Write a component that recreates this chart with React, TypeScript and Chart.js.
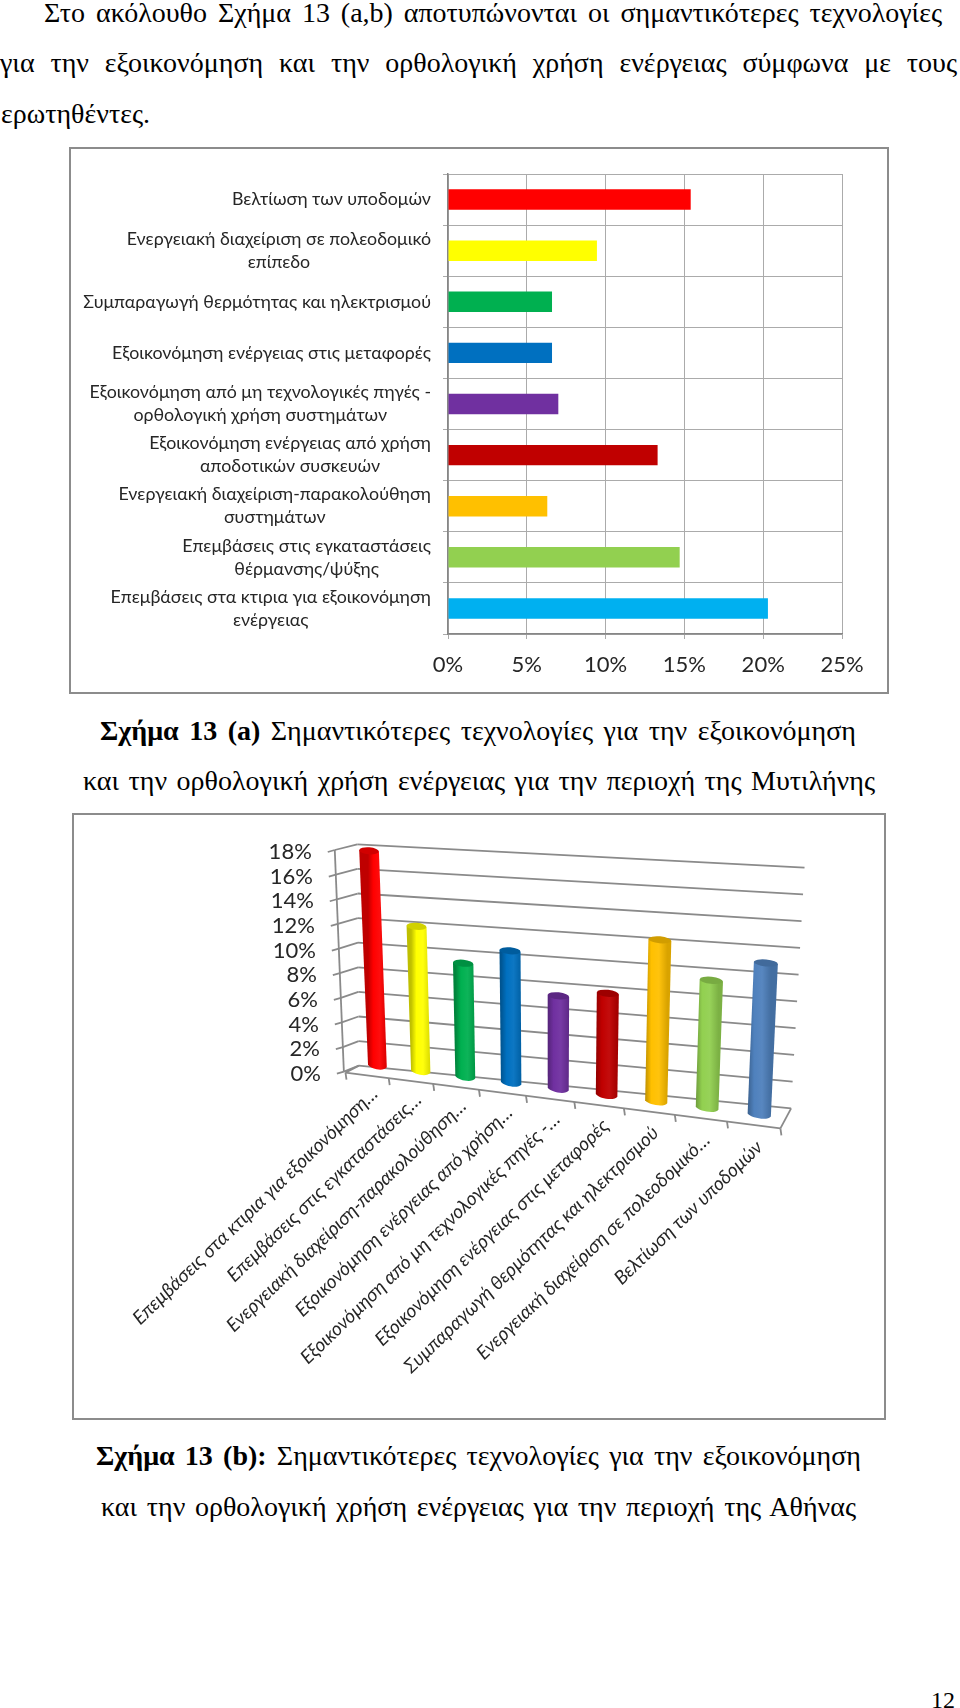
import React, { useEffect, useRef } from "react";
import { Chart, registerables, BarController } from "chart.js";

Chart.register(...registerables);

// ---------- data ----------
const categoriesA: string[][] = [
  ["Βελτίωση των υποδομών"],
  ["Ενεργειακή διαχείριση σε πολεοδομικό", "επίπεδο"],
  ["Συμπαραγωγή θερμότητας και ηλεκτρισμού"],
  ["Εξοικονόμηση ενέργειας στις μεταφορές"],
  ["Εξοικονόμηση από μη τεχνολογικές πηγές -", "ορθολογική χρήση συστημάτων"],
  ["Εξοικονόμηση ενέργειας από χρήση", "αποδοτικών συσκευών"],
  ["Ενεργειακή διαχείριση-παρακολούθηση", "συστημάτων"],
  ["Επεμβάσεις στις εγκαταστάσεις", "θέρμανσης/ψύξης"],
  ["Επεμβάσεις στα κτιρια για εξοικονόμηση", "ενέργειας"],
];
const valuesA = [15.4, 9.45, 6.6, 6.6, 7.0, 13.3, 6.3, 14.7, 20.3];
const colorsA = ["#ff0000", "#ffff00", "#00b050", "#0070c0", "#7030a0", "#c00000", "#ffc000", "#92d050", "#00b0f0"];

const categoriesB = [
  "Επεμβάσεις στα κτιρια για εξοικονόμηση…",
  "Επεμβάσεις στις εγκαταστάσεις…",
  "Ενεργειακή διαχείριση-παρακολούθηση…",
  "Εξοικονόμηση ενέργειας από χρήση…",
  "Εξοικονόμηση από μη τεχνολογικές πηγές -…",
  "Εξοικονόμηση ενέργειας στις μεταφορές",
  "Συμπαραγωγή θερμότητας και ηλεκτρισμού",
  "Ενεργειακή διαχείριση σε πολεοδομικό…",
  "Βελτίωση των υποδομών",
];
const valuesB = [17.5, 11.7, 9.1, 10.45, 7.3, 7.9, 12.4, 9.7, 11.4];
const colorsB = ["#ff0000", "#ffff00", "#00b050", "#0070c0", "#7030a0", "#c00000", "#ffc000", "#92d050", "#4f81bd"];

const FONT = "Lato, 'Noto Sans', sans-serif";
const SERIF = "'Liberation Serif', serif";

// ---------- frames ----------
const FRAME_A = { left: 69, top: 147, width: 820, height: 547 };
const FRAME_B = { left: 72, top: 813, width: 814, height: 607 };

// reference-view helper for chart (b): fixed perspective geometry
type P = { x: number; y: number };
const Z = (zx: number, zy: number): P => ({ x: 60 + zx / 1.867 - FRAME_B.left, y: 810 + zy / 3 - FRAME_B.top });
const lerp = (a: P, b: P, t: number): P => ({ x: a.x + (b.x - a.x) * t, y: a.y + (b.y - a.y) * t });
const warp = (u: number) => u - 0.119 * u * (1 - u);

const PLANE = { bl: Z(553, 760), br: Z(1355, 925), tl: Z(535, 99), tr: Z(1377, 201) };
const WALL = { bl: Z(558, 767), br: Z(1365, 895), tl: Z(555, 103), tr: Z(1390, 173) };
const AXIS = { b: Z(530, 785), t: Z(513, 120) };
const FLOOR_FRONT = { l: Z(533, 788), r: Z(1345, 955) };

const onPlane = (u: number, v: number): P => {
  const f = warp(u);
  return lerp(lerp(PLANE.bl, PLANE.br, f), lerp(PLANE.tl, PLANE.tr, f), v);
};

function shade(hex: string, k: number): string {
  const n = parseInt(hex.slice(1), 16);
  const ch = [(n >> 16) & 255, (n >> 8) & 255, n & 255].map((c) =>
    Math.round(k < 0 ? c * (1 + k) : c + (255 - c) * k)
  );
  return `rgb(${ch[0]},${ch[1]},${ch[2]})`;
}

class Cylinder3D extends BarController {
  static id = "cylinder3d";
  static defaults = BarController.defaults;
  draw() {
    const chart = (this as any).chart;
    const ctx: CanvasRenderingContext2D = chart.ctx;
    const area = chart.chartArea;
    const meta = (this as any).getMeta();
    meta.data.forEach((bar: any) => {
      const color: string = bar.options.backgroundColor;
      const u0 = (bar.x - bar.width / 2 - area.left) / area.width;
      const u1 = (bar.x + bar.width / 2 - area.left) / area.width;
      const v1 = (area.bottom - bar.y) / area.height;
      const v0 = (area.bottom - bar.base) / area.height;
      const bl = onPlane(u0, v0), br = onPlane(u1, v0), tl = onPlane(u0, v1), tr = onPlane(u1, v1);
      const ry = 3.5;
      const g = ctx.createLinearGradient(bl.x, 0, br.x, 0);
      g.addColorStop(0, shade(color, -0.25));
      g.addColorStop(0.28, color);
      g.addColorStop(0.62, shade(color, 0.05));
      g.addColorStop(1, shade(color, -0.15));
      ctx.save();
      ctx.beginPath();
      ctx.moveTo(tl.x, tl.y);
      ctx.lineTo(bl.x, bl.y);
      ctx.bezierCurveTo(bl.x + 3, bl.y + ry * 1.3, br.x - 3, br.y + ry * 1.3, br.x, br.y);
      ctx.lineTo(tr.x, tr.y);
      ctx.closePath();
      ctx.fillStyle = g;
      ctx.fill();
      ctx.beginPath();
      ctx.ellipse((tl.x + tr.x) / 2, (tl.y + tr.y) / 2, (tr.x - tl.x) / 2, ry, Math.atan2(tr.y - tl.y, tr.x - tl.x), 0, Math.PI * 2);
      ctx.fillStyle = shade(color, -0.18);
      ctx.fill();
      ctx.restore();
    });
  }
}
Chart.register(Cylinder3D as any);

const wallPlugin = {
  id: "wall3d",
  beforeDatasetsDraw(chart: any) {
    const ctx: CanvasRenderingContext2D = chart.ctx;
    const y = chart.scales.y;
    const { bottom, height } = chart.chartArea;
    ctx.save();
    ctx.strokeStyle = "#8a8a8a";
    ctx.lineWidth = 1.8;
    const line = (a: P, b: P) => {
      ctx.beginPath();
      ctx.moveTo(a.x, a.y);
      ctx.lineTo(b.x, b.y);
      ctx.stroke();
    };
    // value axis and walls
    line(AXIS.b, AXIS.t);
    ctx.font = `22px ${FONT}`;
    ctx.fillStyle = "#262626";
    ctx.textAlign = "right";
    ctx.textBaseline = "middle";
    y.ticks.forEach((t: any) => {
      const v = (bottom - y.getPixelForValue(t.value)) / height;
      const front = lerp(AXIS.b, AXIS.t, v);
      const bl = lerp(WALL.bl, WALL.tl, v);
      const br = lerp(WALL.br, WALL.tr, v);
      line({ x: front.x - 7, y: front.y + 2 }, front);
      line(front, bl);
      line(bl, br);
      ctx.fillText(`${t.value}%`, front.x - 23, front.y + 2);
    });
    // floor
    line(FLOOR_FRONT.l, FLOOR_FRONT.r);
    line(FLOOR_FRONT.r, WALL.br);
    line(FLOOR_FRONT.l, WALL.bl);
    // category ticks and labels
    const n = chart.data.labels.length;
    ctx.font = `italic 19px ${FONT}`;
    ctx.fillStyle = "#262626";
    ctx.textAlign = "right";
    ctx.textBaseline = "middle";
    for (let i = 0; i <= n; i++) {
      const u = i / n;
      const p = lerp(FLOOR_FRONT.l, FLOOR_FRONT.r, warp(u));
      line(p, { x: p.x + 1, y: p.y + 7 });
      if (i > 0) {
        ctx.save();
        ctx.translate(p.x - 13 - 8 * u, p.y + 12 + 4 * u);
        ctx.rotate((-44 * Math.PI) / 180);
        ctx.fillText(chart.data.labels[i - 1], 0, 0);
        ctx.restore();
      }
    }
    ctx.restore();
  },
};

const centeredLabels = {
  id: "centeredLabels",
  afterDraw(chart: any) {
    const ctx: CanvasRenderingContext2D = chart.ctx;
    const s = chart.scales.y;
    const right = s.right - 17;
    ctx.save();
    ctx.font = `17.8px ${FONT}`;
    ctx.fillStyle = "#262626";
    ctx.textBaseline = "middle";
    ctx.textAlign = "center";
    chart.data.labels.forEach((lines: string[], i: number) => {
      const w = Math.max(...lines.map((l) => ctx.measureText(l).width));
      const cy = s.getPixelForTick(i);
      lines.forEach((l, k) => {
        ctx.fillText(l, right - w / 2, cy + (k - (lines.length - 1) / 2) * 23);
      });
    });
    ctx.restore();
  },
};

function useChart(make: (c: HTMLCanvasElement) => Chart) {
  const ref = useRef<HTMLCanvasElement>(null);
  useEffect(() => {
    const c = make(ref.current!);
    return () => c.destroy();
  }, []);
  return ref;
}

const TextLine = ({ l, t, w, size = 28, children }: any) => (
  <div
    style={{
      position: "absolute",
      left: l,
      top: t,
      width: w,
      height: 30,
      lineHeight: "30px",
      fontFamily: SERIF,
      fontSize: size,
      color: "#000",
      whiteSpace: "nowrap",
      textAlign: "justify",
      textAlignLast: "justify",
    }}
  >
    {children}
  </div>
);

export default function App() {
  const refA = useChart(
    (c) =>
      new Chart(c, {
        type: "bar",
        data: {
          labels: categoriesA as any,
          datasets: [{ data: valuesA, backgroundColor: colorsA, categoryPercentage: 1, barPercentage: 0.4 }],
        },
        options: {
          indexAxis: "y",
          animation: false,
          responsive: false,
          devicePixelRatio: 1,
          layout: { padding: { top: 27, right: 47, left: 0, bottom: 0 } },
          plugins: { legend: { display: false }, tooltip: { enabled: false } },
          scales: {
            x: {
              min: 0,
              max: 25,
              ticks: {
                stepSize: 5,
                callback: (v: any) => `${v}%`,
                font: { family: FONT, size: 22 },
                color: "#262626",
                padding: 13,
                maxRotation: 0,
              },
              grid: { color: "#ababab", lineWidth: 1, tickLength: 5 },
              border: { color: "#868686", width: 1.5 },
              afterFit: (s: any) => {
                s.height = 60;
              },
            },
            y: {
              type: "category",
              ticks: { display: false },
              grid: { color: "#ababab", lineWidth: 1, tickLength: 5, offset: true },
              border: { color: "#868686", width: 1.5 },
              afterFit: (s: any) => {
                s.width = 379;
              },
            },
          },
        },
        plugins: [centeredLabels],
      } as any)
  );
  const refB = useChart(
    (c) =>
      new Chart(c, {
        type: "cylinder3d",
        data: {
          labels: categoriesB,
          datasets: [{ data: valuesB, backgroundColor: colorsB, categoryPercentage: 1, barPercentage: 0.44 }],
        },
        options: {
          animation: false,
          responsive: false,
          devicePixelRatio: 1,
          plugins: { legend: { display: false }, tooltip: { enabled: false } },
          scales: {
            x: { type: "category", offset: true, display: false },
            y: { type: "linear", min: 0, max: 18, ticks: { stepSize: 2 }, display: false },
          },
        },
        plugins: [wallPlugin],
      } as any)
  );

  const frame = (f: typeof FRAME_A): React.CSSProperties => ({
    position: "absolute",
    left: f.left,
    top: f.top,
    width: f.width,
    height: f.height,
    display: "block",
  });
  const border = (f: typeof FRAME_A): React.CSSProperties => ({
    ...frame(f),
    boxSizing: "border-box",
    border: "2px solid #8c8c8c",
  });

  return (
    <div style={{ position: "absolute", left: 0, top: 0, width: 960, height: 1708, background: "#fff", overflow: "hidden" }}>
      <TextLine l={44} t={-2} w={898}>Στο ακόλουθο Σχήμα 13 (a,b) αποτυπώνονται οι σημαντικότερες τεχνολογίες</TextLine>
      <TextLine l={0} t={48} w={957}>για την εξοικονόμηση και την ορθολογική χρήση ενέργειας σύμφωνα με τους</TextLine>
      <div style={{ position: "absolute", left: 1, top: 99, height: 30, lineHeight: "30px", fontFamily: SERIF, fontSize: 28 }}>ερωτηθέντες.</div>

      <div style={border(FRAME_A)} />
      <canvas ref={refA} width={FRAME_A.width} height={FRAME_A.height} style={frame(FRAME_A)} />

      <TextLine l={100} t={716} w={756}><b>Σχήμα 13 (a)</b> Σημαντικότερες τεχνολογίες για την εξοικονόμηση</TextLine>
      <TextLine l={83} t={766} w={792}>και την ορθολογική χρήση ενέργειας για την περιοχή της Μυτιλήνης</TextLine>

      <div style={border(FRAME_B)} />
      <canvas ref={refB} width={FRAME_B.width} height={FRAME_B.height} style={frame(FRAME_B)} />

      <TextLine l={96} t={1441} w={765}><b>Σχήμα 13 (b):</b> Σημαντικότερες τεχνολογίες για την εξοικονόμηση</TextLine>
      <TextLine l={101} t={1492} w={755}>και την ορθολογική χρήση ενέργειας για την περιοχή της Αθήνας</TextLine>

      <div style={{ position: "absolute", left: 931, top: 1685, lineHeight: "30px", fontFamily: SERIF, fontSize: 24 }}>12</div>
    </div>
  );
}
